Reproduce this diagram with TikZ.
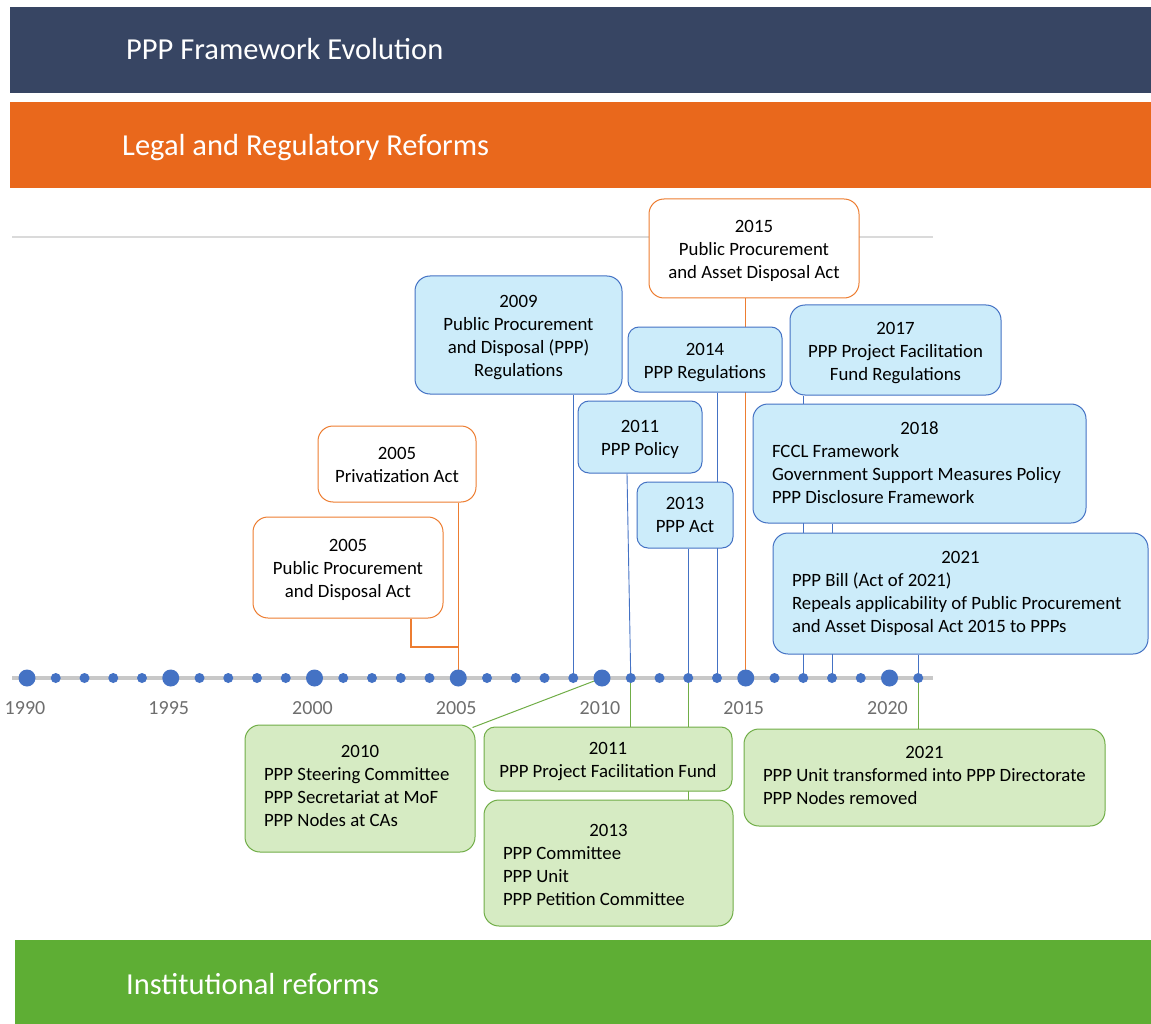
\documentclass[tikz,border=0pt]{standalone}
\usepackage{fontspec}
\setmainfont{Carlito}
\usetikzlibrary{calc}
\pgfdeclarelayer{bg}
\pgfsetlayers{bg,main}

\definecolor{navy}{HTML}{374563}
\definecolor{barorange}{HTML}{E9681C}
\definecolor{bargreen}{HTML}{5EAE34}
\definecolor{lineblue}{HTML}{4472C4}
\definecolor{lineorange}{HTML}{ED7D31}
\definecolor{linegreen}{HTML}{70AD47}
\definecolor{fillblue}{HTML}{CCECFA}
\definecolor{fillgreen}{HTML}{D6EBC3}
\definecolor{axisgrey}{HTML}{C8C8C8}
\definecolor{yeargrey}{HTML}{6E6E6E}
\definecolor{rulegrey}{HTML}{DADADA}

\newcommand\boxfnt{\fontsize{18.8}{23}\selectfont}
\newcommand\headfnt{\fontsize{30.5}{36}\selectfont}
% first line of every box: year with a taller strut
\newcommand\yeartop[1]{\rule{0pt}{18pt}#1}
\newcommand\yearline[1]{\makebox[\hsize][c]{\yeartop{#1}}}
% extra depth below the last line of a list
\newcommand\lastpad[1]{\rule[-#1]{0pt}{#1}}

\begin{document}
\begin{tikzpicture}[x=1pt,y=-1pt,
  evbox/.style={rounded corners=15pt, line width=1pt, inner sep=0pt,
    font=\boxfnt, align=center},
  smallcorner/.style={rounded corners=11pt},
  bluebox/.style={evbox, draw=lineblue, fill=fillblue},
  orangebox/.style={evbox, draw=lineorange, fill=white},
  greenbox/.style={evbox, draw=linegreen, fill=fillgreen},
  listbox/.style={align=flush left, inner xsep=19pt},
  dot/.style={circle, fill=lineblue, inner sep=0pt, minimum size=10pt},
  bigdot/.style={dot, minimum size=17pt},
  yearlbl/.style={anchor=base, font=\fontsize{20}{24}\selectfont, text=yeargrey, inner sep=0pt},
  headlbl/.style={anchor=base west, font=\headfnt, text=white, inner sep=0pt},
  bluelink/.style={draw=lineblue, line width=0.9pt},
  orangelink/.style={draw=lineorange, line width=1.2pt},
  greenlink/.style={draw=linegreen, line width=1pt}]
\useasboundingbox (0,0) rectangle (1151,1024);

% title and section bars
\fill[navy] (10,7) rectangle (1151,93);
\node[headlbl] (title) at (126,60) {PPP Framework Evolution};
\fill[barorange] (10,102) rectangle (1151,188);
\node[headlbl] (legal) at (122,156) {Legal and Regulatory Reforms};
\fill[bargreen] (15,940) rectangle (1151,1024);
\node[headlbl] (inst) at (126,994) {Institutional reforms};
\draw[rulegrey, line width=1.2pt] (12,237) -- (933,237);

% year dots along the axis
\foreach \i in {0,...,31} {
  \pgfmathtruncatemacro\yr{1990+\i}
  \pgfmathtruncatemacro\m{mod(\i,5)}
  \ifnum\m=0
    \node[bigdot] (d\yr) at ({27+\i*28.75},678) {};
    \node[yearlbl] (l\yr) at ({25+\i*28.75},714) {\yr};
  \else
    \node[dot] (d\yr) at ({27+\i*28.75},678) {};
  \fi
}

% legal and regulatory milestones
\node[orangebox, minimum width=210pt, minimum height=99pt] (o2015) at (754,248.5)
  {\yeartop{2015}\\Public Procurement\\and Asset Disposal Act};
\node[bluebox, minimum width=207pt, minimum height=118pt] (b2009) at (518.5,335)
  {\yeartop{2009}\\Public Procurement\\and Disposal (PPP)\\Regulations};
\node[bluebox, smallcorner, minimum width=154pt, minimum height=65pt] (b2014) at (705,359.5)
  {\yeartop{2014}\\PPP Regulations};
\node[bluebox, minimum width=211pt, minimum height=90pt] (b2017) at (895.5,350)
  {\yeartop{2017}\\PPP Project Facilitation\\Fund Regulations};
\node[bluebox, smallcorner, minimum width=124pt, minimum height=72pt] (b2011) at (640,437)
  {\yeartop{2011}\\PPP Policy};
\node[bluebox, smallcorner, minimum width=96pt, minimum height=66pt] (b2013) at (685,515)
  {\rule{0pt}{13pt}2013\\PPP Act};
\node[bluebox, listbox, text width=295pt, minimum height=119pt] (b2018) at (919.5,463.5)
  {\yearline{2018}\\FCCL Framework\\\mbox{Government Support Measures Policy}\\PPP Disclosure Framework\lastpad{8pt}};
\node[bluebox, listbox, text width=337pt, minimum height=121pt] (b2021) at (960.5,593.5)
  {\yearline{2021}\\PPP Bill (Act of 2021)\\\mbox{Repeals applicability of Public Procurement}\\\mbox{and Asset Disposal Act 2015 to PPPs}\lastpad{10pt}};
\node[orangebox, minimum width=158pt, minimum height=76pt] (o2005a) at (397,464)
  {\rule{0pt}{14pt}2005\\Privatization Act};
\node[orangebox, minimum width=190pt, minimum height=101pt] (o2005b) at (348,567.5)
  {\yeartop{2005}\\Public Procurement\\and Disposal Act};

% institutional milestones
\node[greenbox, listbox, text width=192pt, minimum height=127pt] (g2010) at (360,788.5)
  {\yearline{2010}\\PPP Steering Committee\\PPP Secretariat at MoF\\PPP Nodes at CAs\lastpad{12pt}};
\node[greenbox, smallcorner, minimum width=248pt, minimum height=64pt] (g2011) at (608,759)
  {\yeartop{2011}\\PPP Project Facilitation Fund};
\node[greenbox, listbox, text width=211pt, minimum height=126pt] (g2013) at (608.5,863)
  {\yearline{2013}\\PPP Committee\\PPP Unit\\PPP Petition Committee\lastpad{2pt}};
\node[greenbox, listbox, text width=323pt, minimum height=97pt] (g2021) at (924.5,777.5)
  {\yearline{2021}\\\mbox{PPP Unit transformed into PPP Directorate}\\PPP Nodes removed\lastpad{10pt}};

\begin{pgfonlayer}{bg}
  \draw[axisgrey, line width=4pt] (12,678) -- (933,678);
  % links from milestones to their years
  \path[orangelink] (o2015.south -| d2015) -- (d2015.center);
  \path[orangelink] (o2005a.south -| d2005) -- (d2005.center);
  \path[orangelink] ($(o2005b.south)+(63,0)$) |- ($(d2005)+(0,-31)$);
  \path[bluelink] (b2009.south -| d2009) -- (d2009.center);
  \path[bluelink] (b2014.south -| d2014) -- (d2014.center);
  \path[bluelink] (b2017.south -| d2017) -- (d2017.center);
  \path[bluelink] ($(b2011.south)+(-13,0)$) -- (d2011.center);
  \path[bluelink] (b2013.south -| d2013) -- (d2013.center);
  \path[bluelink] (b2018.south -| d2018) -- (d2018.center);
  \path[bluelink] (b2021.south -| d2021) -- (d2021.center);
  \path[greenlink] (d2010.center) -- ($(g2010.north east)+(-3,3)$);
  \path[greenlink] (d2011.center) -- (g2011.north -| d2011);
  \path[greenlink] (d2013.center) -- (g2013.north -| d2013);
  \path[greenlink] (d2021.center) -- (g2021.north -| d2021);
\end{pgfonlayer}
\end{tikzpicture}
\end{document}
